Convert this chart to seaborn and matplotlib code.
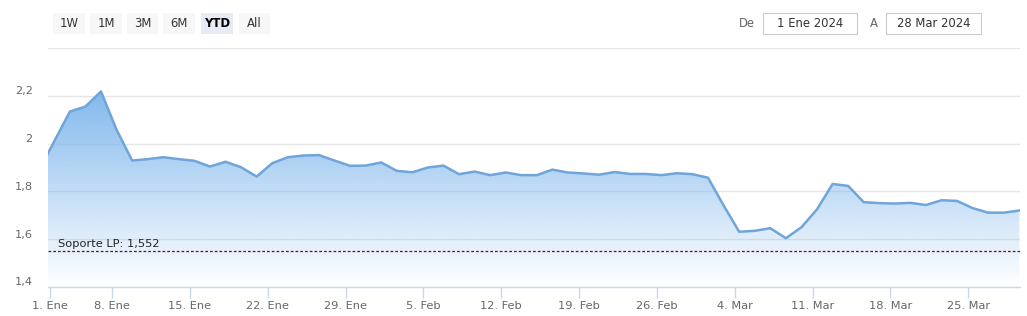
import numpy as np
import pandas as pd
import matplotlib
matplotlib.use("Agg")
import matplotlib.pyplot as plt
import seaborn as sns
from matplotlib.patches import FancyBboxPatch, Rectangle
from matplotlib.transforms import ScaledTranslation

# ---------------- data ----------------
trade_dates = [d for d in pd.bdate_range("2023-12-29", "2024-03-28") if d != pd.Timestamp("2024-01-01")]
prices = [
    1.885,                                   # 29 Dic (just before the range, clipped)
    2.010, 2.134, 2.155, 2.218,              # 2-5 Ene
    2.058, 1.929, 1.935, 1.943, 1.935,       # 8-12 Ene
    1.928, 1.904, 1.924, 1.901, 1.862,       # 15-19 Ene
    1.918, 1.943, 1.950, 1.952, 1.929,       # 22-26 Ene
    1.907, 1.908, 1.921, 1.886, 1.880,       # 29 Ene - 2 Feb
    1.900, 1.908, 1.872, 1.883, 1.868,       # 5-9 Feb
    1.879, 1.868, 1.868, 1.891, 1.879,       # 12-16 Feb
    1.875, 1.870, 1.881, 1.873, 1.873,       # 19-23 Feb
    1.868, 1.876, 1.872, 1.857, 1.741,       # 26 Feb - 1 Mar
    1.631, 1.635, 1.646, 1.604, 1.650,       # 4-8 Mar
    1.725, 1.831, 1.823, 1.755, 1.751,       # 11-15 Mar
    1.749, 1.752, 1.743, 1.763, 1.760,       # 18-22 Mar
    1.730, 1.711, 1.711, 1.720,              # 25-28 Mar
]
tick_labels_x = ["1. Ene", "8. Ene", "15. Ene", "22. Ene", "29. Ene", "5. Feb", "12. Feb",
                 "19. Feb", "26. Feb", "4. Mar", "11. Mar", "18. Mar", "25. Mar"]
tick_dates_x = pd.to_datetime(["2024-01-01", "2024-01-08", "2024-01-15", "2024-01-22", "2024-01-29",
                               "2024-02-05", "2024-02-12", "2024-02-19", "2024-02-26", "2024-03-04",
                               "2024-03-11", "2024-03-18", "2024-03-25"])
y_ticks = [1.4, 1.6, 1.8, 2.0, 2.2, 2.4]
y_labels = ["1,4", "1,6", "1,8", "2", "2,2", ""]
support_value = 1.552
support_label = "Soporte LP: 1,552"
range_buttons = ["1W", "1M", "3M", "6M", "YTD", "All"]
selected_button = "YTD"
date_from = "1 Ene 2024"
date_to = "28 Mar 2024"

# ordinal axis: index 0 = 2 Ene, 29 Dic = -1
x_idx = np.arange(len(prices)) - 1
df = pd.DataFrame({"idx": x_idx, "price": prices, "date": trade_dates})
first_idx = {}
tick_pos = []
for td in tick_dates_x:
    i = int(df.loc[df["date"] >= td, "idx"].iloc[0])
    tick_pos.append(i - 0.29)

# ---------------- figure ----------------
sns.set_theme(style="white")
plt.rcParams["font.family"] = ["DejaVu Sans"]

W, H = 1027, 316
fig = plt.figure(figsize=(W / 100, H / 100), dpi=100)
L, R, T, B = 48, 1020, 48, 287
ax = fig.add_axes([L / W, 1 - B / H, (R - L) / W, (B - T) / H])

ymin, ymax = 1.4, 2.4
xmin, xmax = -0.405, 62.04

base_col = np.array([124, 181, 236]) / 255.0

# gradient fill under the line
poly = ax.fill_between(df["idx"], df["price"], ymin, facecolor="none", edgecolor="none")
top_val = max(prices)
ny = 256
ys = np.linspace(ymin, top_val, ny)
alpha = (ys - ymin) / (top_val - ymin)
alpha = np.clip(alpha, 0, 1) * 0.95
grad = np.zeros((ny, 2, 4))
grad[..., 0] = base_col[0]
grad[..., 1] = base_col[1]
grad[..., 2] = base_col[2]
grad[..., 3] = alpha[:, None]
im = ax.imshow(grad, extent=[-1, 62, ymin, top_val], origin="lower", aspect="auto",
               interpolation="bilinear", zorder=1)
im.set_clip_path(poly.get_paths()[0], transform=ax.transData)

sns.lineplot(data=df, x="idx", y="price", ax=ax, color="#6fa5db", linewidth=1.8, zorder=3)

# support line
ax.axhline(support_value, color="#7a0a1e", linewidth=0.9, linestyle=(0, (2.2, 1.6)), zorder=4)
ax.annotate(support_label, xy=(10 / (R - L), support_value), xycoords=("axes fraction", "data"),
            xytext=(0, 1.5), textcoords="offset points", ha="left", va="bottom",
            fontsize=8.2, color="#222222", zorder=5)

ax.set_xlim(xmin, xmax)
ax.set_ylim(ymin, ymax)
ax.set_xlabel("")
ax.set_ylabel("")

ax.set_yticks(y_ticks)
ax.set_yticklabels(y_labels)
ax.set_xticks(tick_pos)
ax.set_xticklabels(tick_labels_x)

ax.grid(axis="y", color="#e6e6e6", linewidth=1)
ax.grid(axis="x", visible=False)
ax.set_axisbelow(True)
for s in ["top", "right", "left"]:
    ax.spines[s].set_visible(False)
ax.spines["bottom"].set_color("#ccd6eb")
ax.spines["bottom"].set_linewidth(1)

ax.tick_params(axis="x", length=8, width=1, color="#ccd6eb", pad=2, labelsize=8.2, labelcolor="#666666",
               direction="out", bottom=True)
ax.tick_params(axis="y", length=0, pad=11, labelsize=8.2, labelcolor="#666666")
for lab in ax.get_yticklabels():
    lab.set_transform(lab.get_transform() + ScaledTranslation(0, 4 / 72, fig.dpi_scale_trans))

# ---------------- header UI ----------------
def px_rect(x0, y0, x1, y1, fc, ec="none", lw=0.8):
    r = Rectangle((x0 / W, 1 - y1 / H), (x1 - x0) / W, (y1 - y0) / H, transform=fig.transFigure,
                  facecolor=fc, edgecolor=ec, linewidth=lw)
    fig.add_artist(r)

btn_x = [(53, 85), (90, 122), (127, 158), (163, 195), (201, 233), (239, 270)]
for (x0, x1), lab in zip(btn_x, range_buttons):
    sel = lab == selected_button
    px_rect(x0, 13, x1, 34, "#e6ebf5" if sel else "#f7f7f7")
    fig.text((x0 + x1) / 2 / W, 1 - 23.5 / H, lab, ha="center", va="center", fontsize=8.4,
             color="#000000" if sel else "#333333", fontweight="bold" if sel else "normal")

fig.text(747 / W, 1 - 23.5 / H, "De", ha="center", va="center", fontsize=8.4, color="#666666")
px_rect(763, 13, 857, 34, "white", "#cccccc")
fig.text(810 / W, 1 - 23.5 / H, date_from, ha="center", va="center", fontsize=8.4, color="#333333")
fig.text(874 / W, 1 - 23.5 / H, "A", ha="center", va="center", fontsize=8.4, color="#666666")
px_rect(886, 13, 981, 34, "white", "#cccccc")
fig.text(933.5 / W, 1 - 23.5 / H, date_to, ha="center", va="center", fontsize=8.4, color="#333333")

fig.savefig("out.png", dpi=100, facecolor="white")
